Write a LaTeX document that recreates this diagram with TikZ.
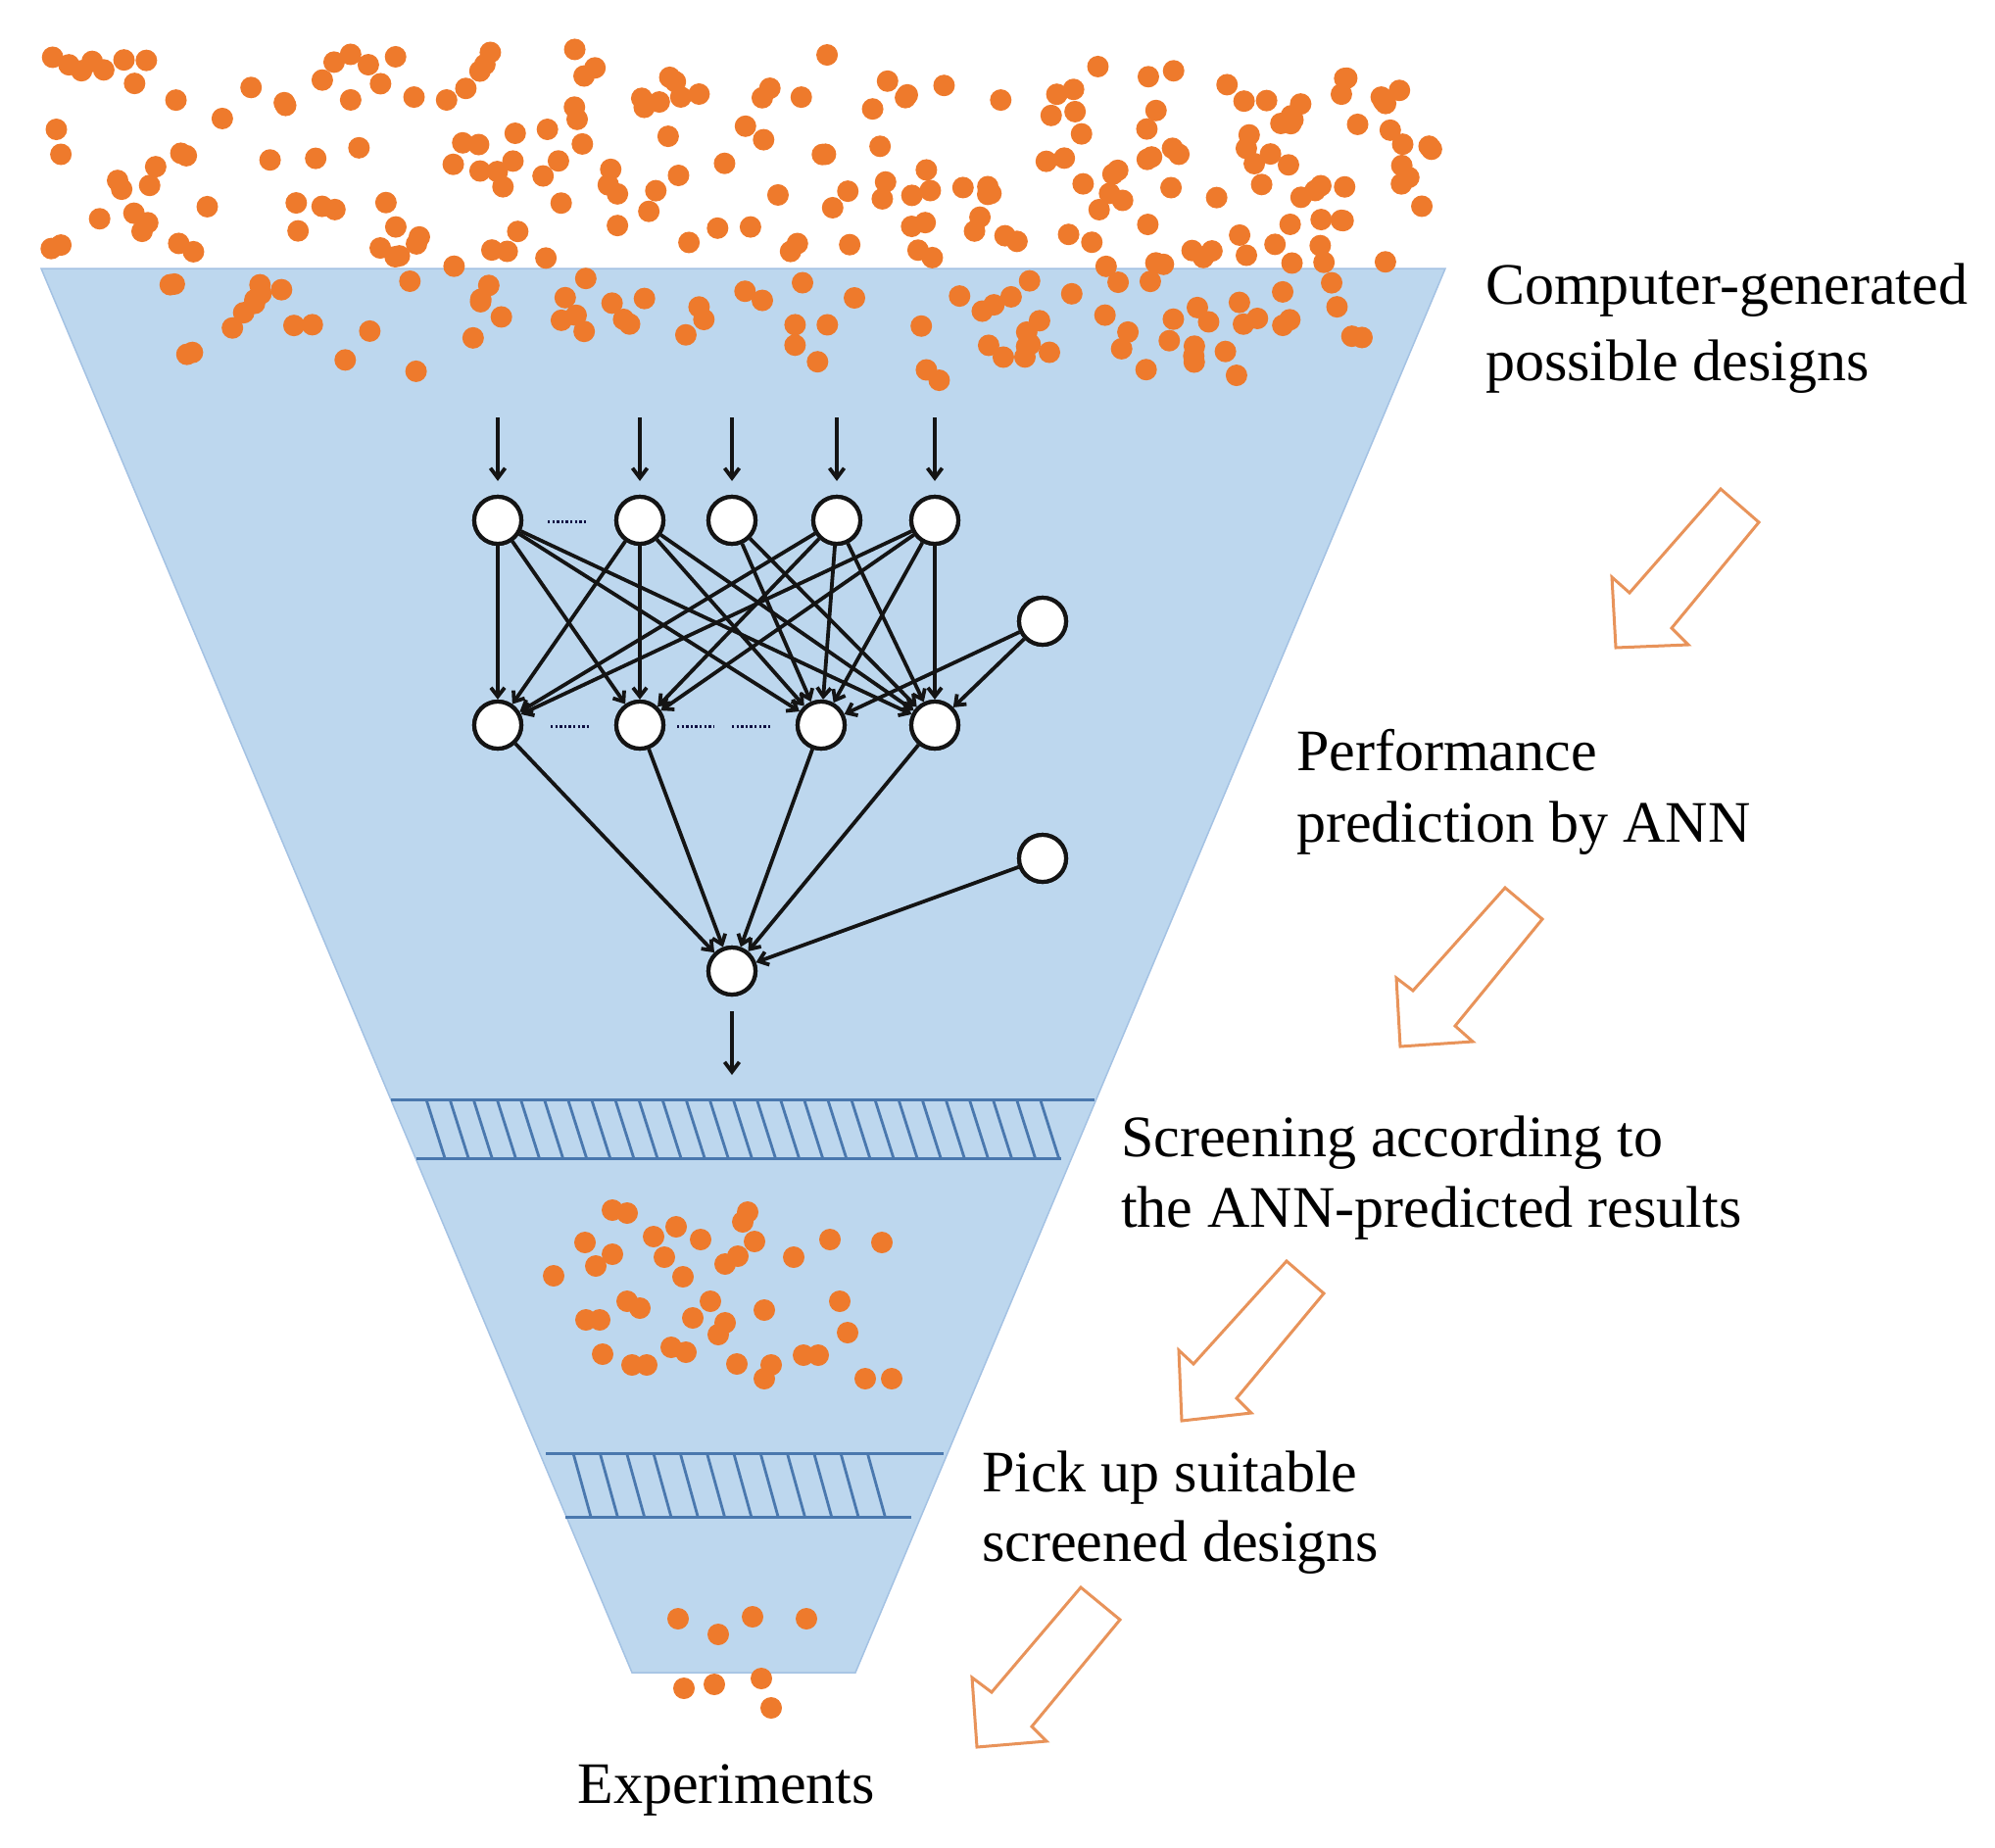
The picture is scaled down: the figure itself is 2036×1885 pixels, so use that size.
\documentclass[tikz,border=0pt]{standalone}
\usepackage{fontspec}
\setmainfont{Liberation Serif}
\usetikzlibrary{arrows.meta}
\definecolor{funnelfill}{HTML}{BDD7EE}
\definecolor{funneledge}{HTML}{A4C2E3}
\definecolor{sieveline}{HTML}{4A78AE}
\definecolor{dotc}{HTML}{EE7A2C}
\definecolor{hollowc}{HTML}{E8935A}
\definecolor{netc}{HTML}{141414}
\begin{document}
\begin{tikzpicture}[x=1pt,y=-1pt,
  neuron/.style={circle, draw=netc, fill=white, line width=4.2pt, minimum size=48pt, inner sep=0pt},
  conn/.style={draw=netc, line width=3.8pt, -{Straight Barb[length=9pt,width=14pt]}},
  inarrow/.style={draw=netc, line width=3.8pt, -{Straight Barb[length=10pt,width=15pt]}},
  ell/.style={draw=netc!80!blue, line width=3pt, dash pattern=on 2.4pt off 2.2pt},
  sieve/.style={draw=sieveline, line width=2.8pt},
  hollow/.style={draw=hollowc, line width=3pt, line join=miter, fill=white},
  dot/.style={fill=dotc},
  lbl/.style={anchor=base west, font=\fontsize{60}{72}\selectfont, inner sep=0pt, text=black}
]
\useasboundingbox (0,0) rectangle (2036,1885);

% funnel
\filldraw[fill=funnelfill, draw=funneledge, line width=1.5pt]
  (42,274) -- (1475,274) -- (873,1707) -- (645,1707) -- cycle;

% top dots (computer-generated designs)
\pgfmathsetseed{4711}
\foreach \k in {1,...,215}{
  \pgfmathsetmacro{\dotx}{48+1415*rnd}
  \pgfmathsetmacro{\doty}{50+222*rnd}
  \fill[dot] (\dotx,\doty) circle (11pt);
}
\foreach \k in {1,...,62}{
  \pgfmathsetmacro{\dotx}{135+1300*rnd}
  \pgfmathsetmacro{\doty}{284+62*rnd}
  \fill[dot] (\dotx,\doty) circle (11pt);
}
\foreach \k in {1,...,22}{
  \pgfmathsetmacro{\dotx}{170+1110*rnd}
  \pgfmathsetmacro{\doty}{346+44*rnd}
  \fill[dot] (\dotx,\doty) circle (11pt);
}

% sieve 1
\draw[sieve, line width=3pt] (399,1122) -- (1117,1122);
\draw[sieve, line width=3pt] (425,1182) -- (1083,1182);
\foreach \k in {0,...,26}{
  \pgfmathsetmacro{\hx}{435+24.1*\k}
  \draw[sieve] (\hx,1122) -- ++(19,60);
}
% sieve 2
\draw[sieve, line width=3pt] (557,1483) -- (963,1483);
\draw[sieve, line width=3pt] (577,1548) -- (930,1548);
\foreach \k in {0,...,11}{
  \pgfmathsetmacro{\hx}{585+27.3*\k}
  \draw[sieve] (\hx,1483) -- ++(18,65);
}

% screened designs
\foreach \p in {(625,1235),(640,1238),(597,1268),(625,1280),(608,1292),(565,1302),
  (667,1262),(690,1252),(678,1283),(697,1303),(715,1265),(763,1237),(758,1247),
  (770,1267),(753,1282),(740,1290),(810,1283),(847,1265),(900,1268),(640,1328),
  (653,1335),(598,1347),(612,1347),(725,1328),(707,1345),(740,1350),(733,1362),
  (780,1337),(857,1328),(865,1360),(615,1382),(645,1393),(660,1393),(685,1375),
  (700,1380),(752,1392),(787,1393),(780,1407),(820,1383),(835,1383),(883,1407),(910,1407)}{
  \fill[dot] \p circle (11pt);
}
% picked designs
\foreach \p in {(692,1652),(733,1668),(768,1650),(823,1652),(698,1723),(729,1719),(777,1713),(787,1743)}{
  \fill[dot] \p circle (11pt);
}

% ANN
\node[neuron] (i1) at (508,531) {};
\node[neuron] (i2) at (653,531) {};
\node[neuron] (i3) at (747,531) {};
\node[neuron] (i4) at (854,531) {};
\node[neuron] (i5) at (954,531) {};
\node[neuron] (h1) at (508,740) {};
\node[neuron] (h2) at (653,740) {};
\node[neuron] (h3) at (838,740) {};
\node[neuron] (h4) at (954,740) {};
\node[neuron] (b1) at (1064,634) {};
\node[neuron] (b2) at (1064,876) {};
\node[neuron] (o) at (747,991) {};

\coordinate (a1) at (508,426);
\coordinate (a2) at (653,426);
\coordinate (a3) at (747,426);
\coordinate (a4) at (854,426);
\coordinate (a5) at (954,426);
\coordinate (out) at (747,1097);
\foreach \n in {1,...,5}{
  \draw[inarrow, shorten >=14pt] (a\n) -- (i\n);
}
\draw[inarrow, shorten <=15pt] (o) -- (out);

\foreach \s/\t in {i1/h1,i1/h2,i1/h3,i1/h4,
                   i2/h1,i2/h2,i2/h3,i2/h4,
                   i3/h3,i3/h4,
                   i4/h1,i4/h2,i4/h3,i4/h4,
                   i5/h1,i5/h2,i5/h3,i5/h4,
                   b1/h3,b1/h4,
                   h1/o,h2/o,h3/o,h4/o,b2/o}{
  \draw[conn] (\s) -- (\t);
}
% redraw neurons on top
\foreach \n in {i1,i2,i3,i4,i5,h1,h2,h3,h4,b1,b2,o}{
  \node[neuron] at (\n) {};
}

\draw[ell] (559,532) -- (600,532);
\draw[ell] (562,741) -- (602,741);
\draw[ell] (691,741) -- (729,741);
\draw[ell] (747,741) -- (787,741);

% hollow arrows
\draw[hollow] (1756,499) -- (1795,533) -- (1706,641) -- (1723,658) -- (1649,661) -- (1645,589) -- (1663,605) -- cycle;
\draw[hollow] (1536,906) -- (1574,938) -- (1485,1047) -- (1503,1063) -- (1429,1068) -- (1425,998) -- (1442,1011) -- cycle;
\draw[hollow] (1313,1287) -- (1351,1320) -- (1262,1427) -- (1277,1442) -- (1206,1450) -- (1203,1378) -- (1218,1392) -- cycle;
\draw[hollow] (1103,1620) -- (1143,1653) -- (1053,1762) -- (1068,1777) -- (997,1783) -- (992,1712) -- (1012,1727) -- cycle;

% labels
\node[lbl] (t1a) at (1516,310) {Computer-generated};
\node[lbl] (t1b) at (1516,388) {possible designs};
\node[lbl] (t2a) at (1323,786) {Performance};
\node[lbl] (t2b) at (1323,859) {prediction by ANN};
\node[lbl] (t3a) at (1144,1180) {Screening according to};
\node[lbl] (t3b) at (1144,1252) {the ANN-predicted results};
\node[lbl] (t4a) at (1002,1522) {Pick up suitable};
\node[lbl] (t4b) at (1002,1593) {screened designs};
\node[lbl, anchor=base] (t5) at (741,1840) {Experiments};
\end{tikzpicture}
\end{document}
